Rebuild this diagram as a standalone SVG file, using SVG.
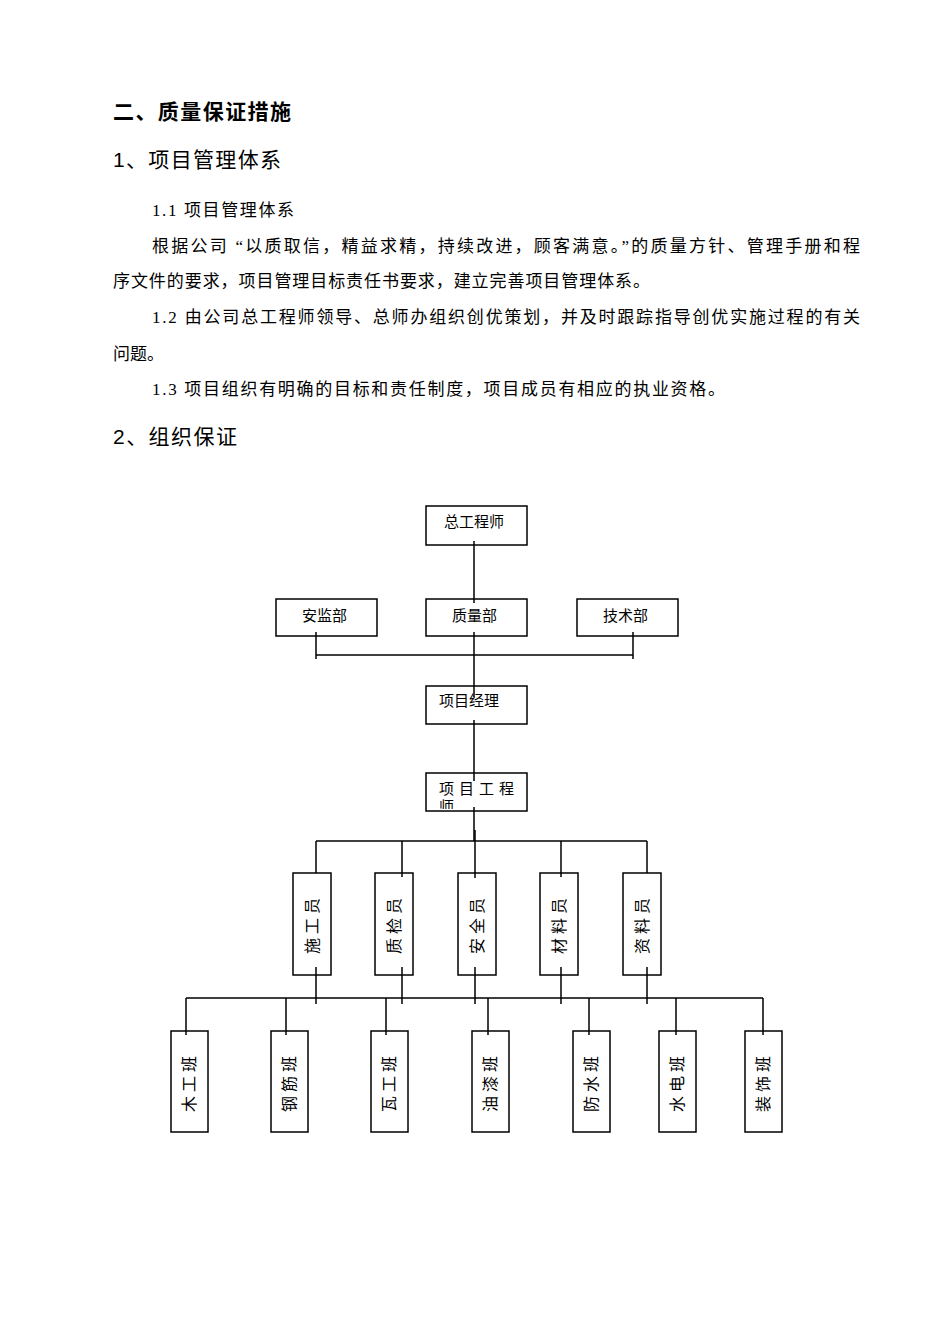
<svg xmlns="http://www.w3.org/2000/svg" width="950" height="1344" viewBox="0 0 950 1344">
<style>
.h{font-family:"Liberation Sans","Noto Sans CJK SC",sans-serif;font-size:21px;fill:#000}
.p{font-family:"Liberation Serif","Noto Sans CJK SC",serif;font-size:17px;fill:#000}
.b{fill:#fff;stroke:#000;stroke-width:1.5}
.l{stroke:#000;stroke-width:1.5;fill:none}
.t{font-family:"Liberation Serif","Noto Sans CJK SC",serif;font-size:15px;fill:#000}
.v{font-family:"Liberation Serif","Noto Sans CJK SC",serif;font-size:16px;fill:#000;letter-spacing:4px}
</style>
<rect width="950" height="1344" fill="#fff"/>
<text class="h" x="113" y="119" font-weight="bold" textLength="178">二、质量保证措施</text>
<text class="h" x="113" y="167" textLength="168">1、项目管理体系</text>
<text class="p" x="152" y="216" textLength="142">1.1 项目管理体系</text>
<text class="p" x="152" y="252" textLength="708">根据公司 “以质取信，精益求精，持续改进，顾客满意。”的质量方针、管理手册和程</text>
<text class="p" x="113" y="287" textLength="537">序文件的要求，项目管理目标责任书要求，建立完善项目管理体系。</text>
<text class="p" x="152" y="323" textLength="708">1.2 由公司总工程师领导、总师办组织创优策划，并及时跟踪指导创优实施过程的有关</text>
<text class="p" x="113" y="360" textLength="51">问题。</text>
<text class="p" x="152" y="395" textLength="573">1.3 项目组织有明确的目标和责任制度，项目成员有相应的执业资格。</text>
<text class="h" x="113" y="444" textLength="124">2、组织保证</text>
<g id="n1"><rect class="b" x="426" y="506" width="101" height="39"/><text class="t" x="444" y="527">总工程师</text></g>
<g id="n2"><rect class="b" x="276" y="599" width="101" height="37"/><text class="t" x="302" y="621">安监部</text></g>
<g id="n3"><rect class="b" x="426" y="599" width="101" height="37"/><text class="t" x="452" y="621">质量部</text></g>
<g id="n4"><rect class="b" x="577" y="599" width="101" height="37"/><text class="t" x="603" y="621">技术部</text></g>
<g id="n5"><rect class="b" x="426" y="686" width="101" height="38"/><text class="t" x="439" y="706">项目经理</text></g>
<defs><clipPath id="c6"><rect x="426" y="773" width="101" height="36"/></clipPath></defs>
<g id="n6"><rect class="b" x="426" y="773" width="101" height="38"/><text class="t" x="439" y="794" letter-spacing="5">项目工程</text><text class="t" x="439" y="812" clip-path="url(#c6)">师</text></g>
<g id="r1">
<g><rect class="b" x="293" y="873" width="38" height="102"/><text class="v" transform="translate(318,924) rotate(-90)" text-anchor="middle">施工员</text></g>
<g><rect class="b" x="375" y="873" width="38" height="102"/><text class="v" transform="translate(400,924) rotate(-90)" text-anchor="middle">质检员</text></g>
<g><rect class="b" x="458" y="873" width="38" height="102"/><text class="v" transform="translate(483,924) rotate(-90)" text-anchor="middle">安全员</text></g>
<g><rect class="b" x="540" y="873" width="38" height="102"/><text class="v" transform="translate(565,924) rotate(-90)" text-anchor="middle">材料员</text></g>
<g><rect class="b" x="623" y="873" width="38" height="102"/><text class="v" transform="translate(648,924) rotate(-90)" text-anchor="middle">资料员</text></g>
</g>
<g id="r2">
<g><rect class="b" x="171" y="1031" width="37" height="101"/><text class="v" transform="translate(195,1082) rotate(-90)" text-anchor="middle">木工班</text></g>
<g><rect class="b" x="271" y="1031" width="37" height="101"/><text class="v" transform="translate(295,1082) rotate(-90)" text-anchor="middle">钢筋班</text></g>
<g><rect class="b" x="371" y="1031" width="37" height="101"/><text class="v" transform="translate(395,1082) rotate(-90)" text-anchor="middle">瓦工班</text></g>
<g><rect class="b" x="472" y="1031" width="37" height="101"/><text class="v" transform="translate(496,1082) rotate(-90)" text-anchor="middle">油漆班</text></g>
<g><rect class="b" x="573" y="1031" width="37" height="101"/><text class="v" transform="translate(597,1082) rotate(-90)" text-anchor="middle">防水班</text></g>
<g><rect class="b" x="659" y="1031" width="37" height="101"/><text class="v" transform="translate(683,1082) rotate(-90)" text-anchor="middle">水电班</text></g>
<g><rect class="b" x="745" y="1031" width="37" height="101"/><text class="v" transform="translate(769,1082) rotate(-90)" text-anchor="middle">装饰班</text></g>
</g>
<g id="connectors" class="l">
<path d="M474 541V603M474 632V697M474 720V781M474 807V841"/>
<path d="M316 632V659M633 632V659M316 655H633"/>
<path d="M316 841H647M316 841V873M402 841V877M475 830V878M561 841V877M647 841V873"/>
<path d="M316 967V1004M402 967V1004M475 967V1004M561 967V1004M647 967V1004"/>
<path d="M186 998H763M186 998V1035M286 998V1035M386 998V1035M488 998V1035M589 998V1035M676 998V1035M763 998V1035"/>
</g>
</svg>
